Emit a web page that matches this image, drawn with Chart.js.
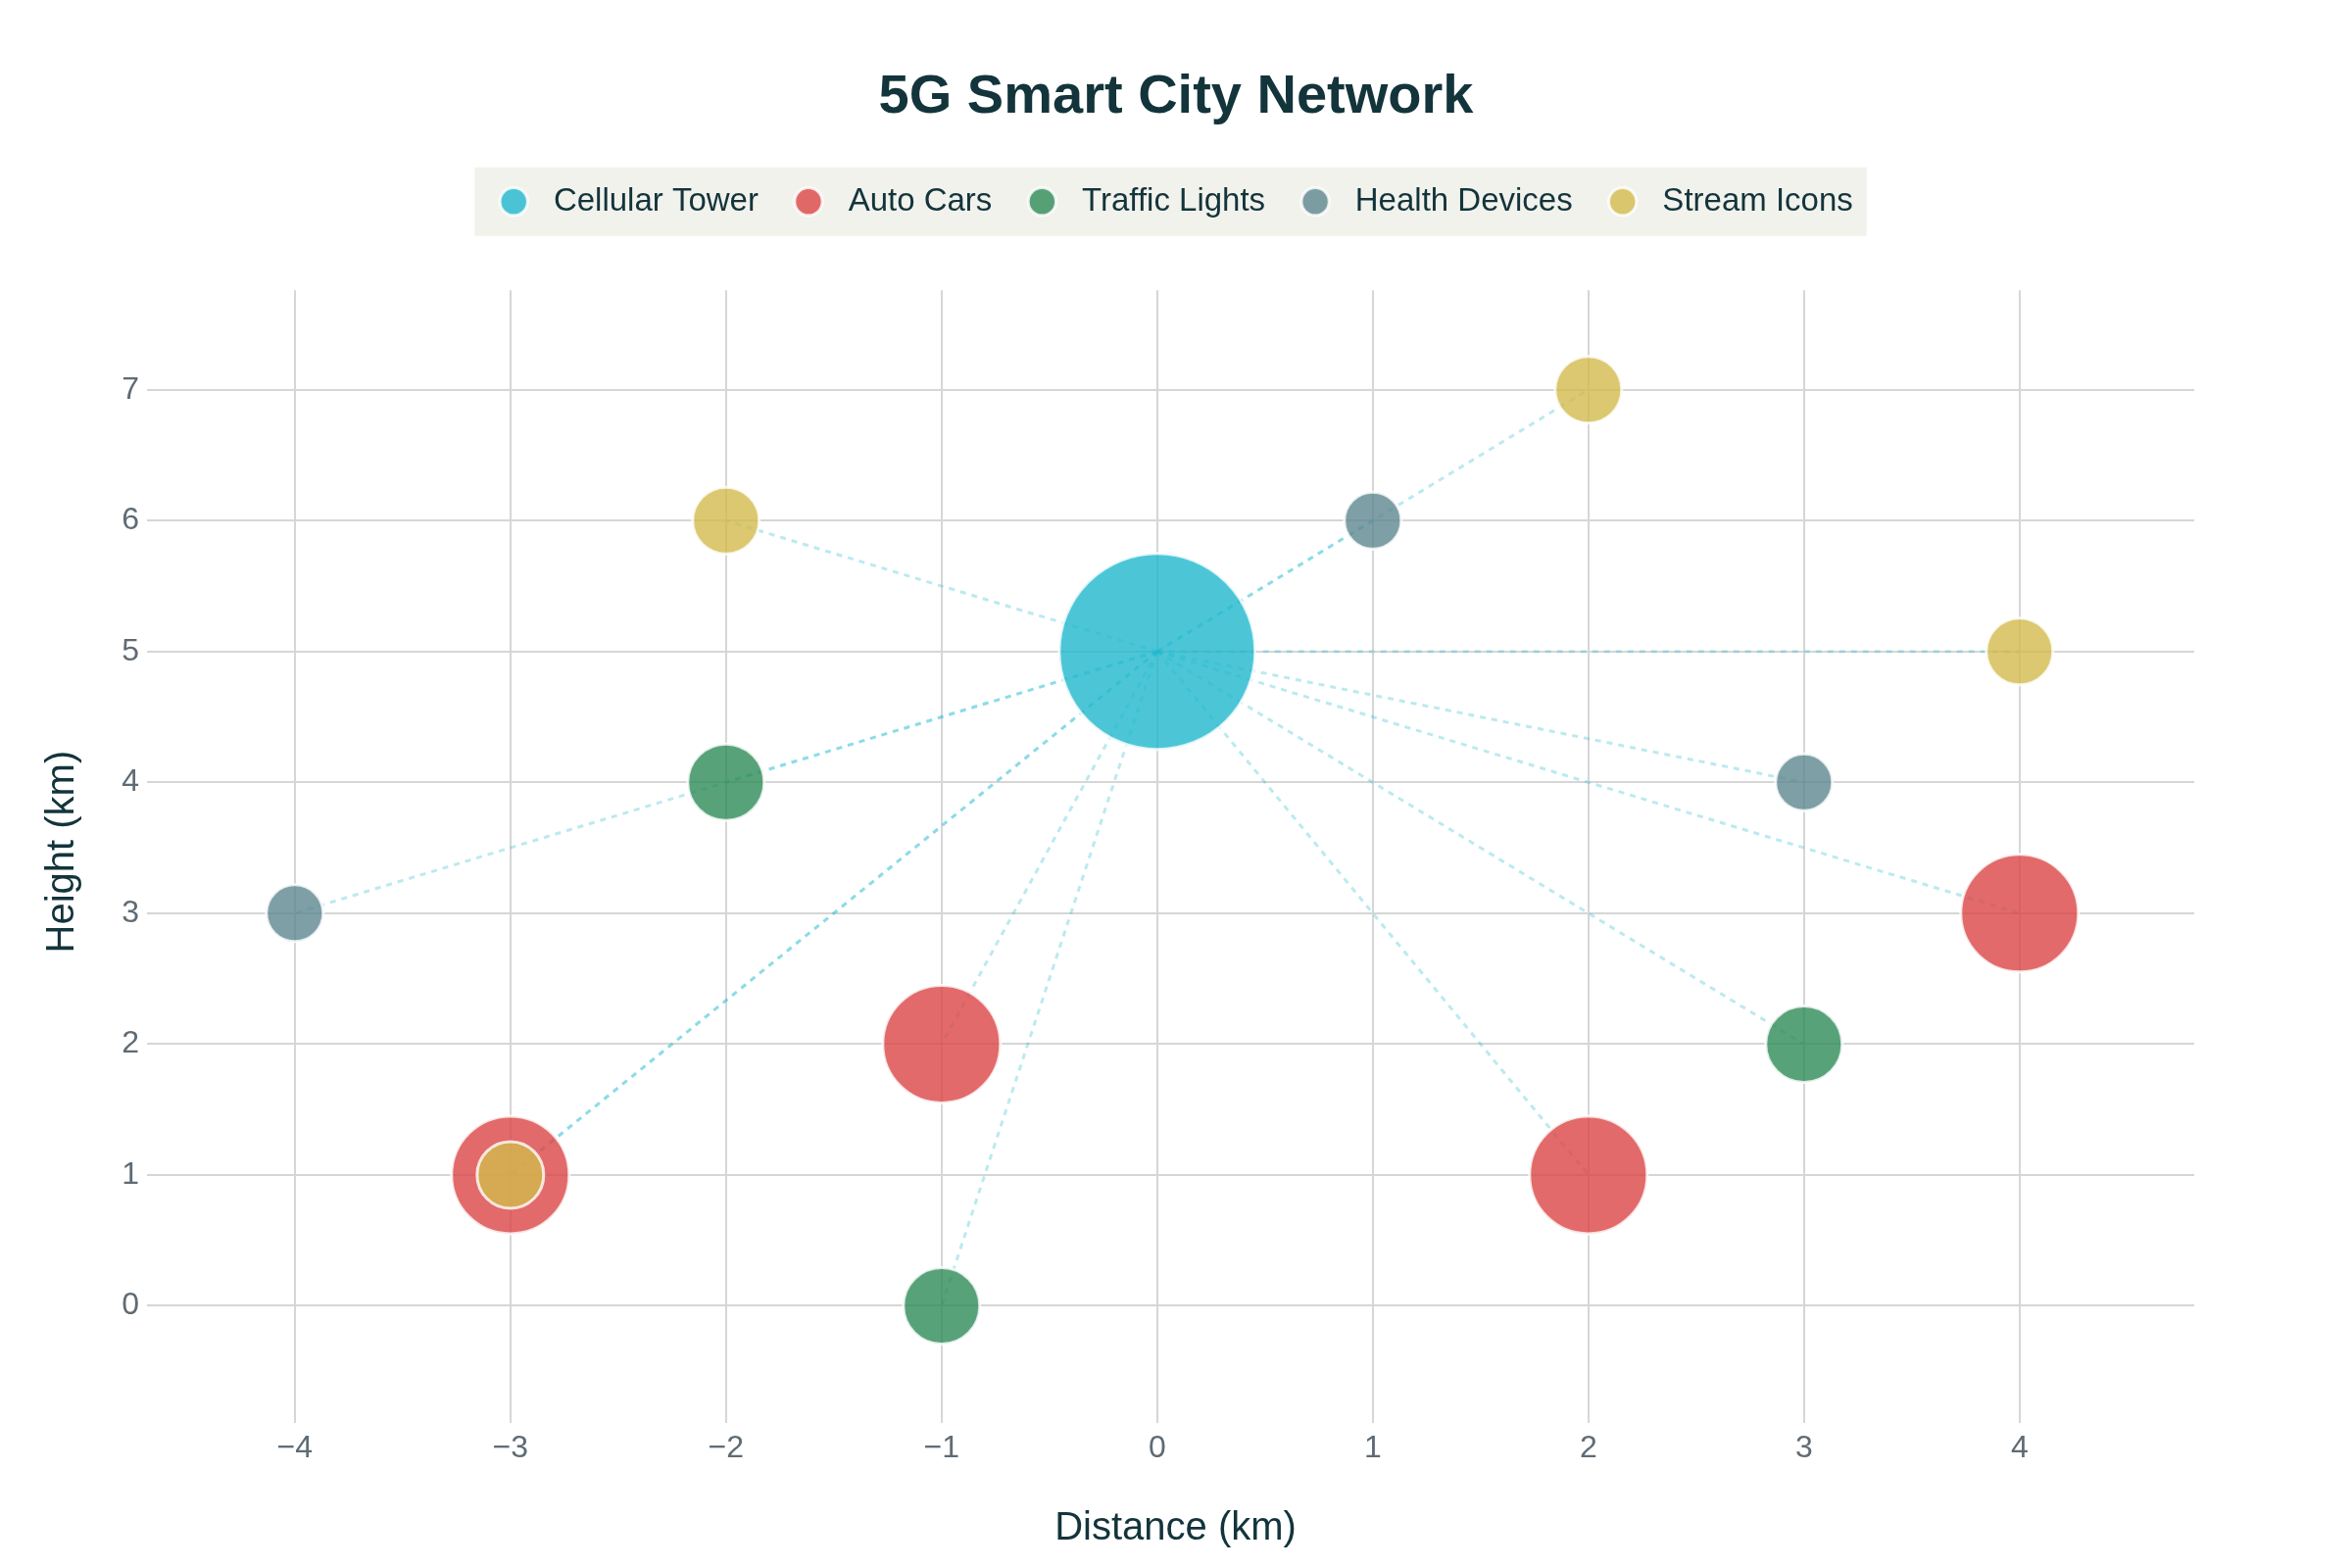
<!DOCTYPE html>
<html>
<head>
<meta charset="utf-8">
<title>5G Smart City Network</title>
<script src="https://cdn.jsdelivr.net/npm/chart.js@4.4.1/dist/chart.umd.min.js"></script>
<style>
  html, body { margin: 0; padding: 0; background: #ffffff; }
  canvas { display: block; }
</style>
</head>
<body>
<canvas id="networkChart" width="2400" height="1600"></canvas>
<script>
// data
const categories = ['Cellular Tower', 'Auto Cars', 'Traffic Lights', 'Health Devices', 'Stream Icons'];
const towerX = [0];
const towerY = [5];
const carX = [-3, -1, 2, 4];
const carY = [1, 2, 1, 3];
const lightX = [-2, -1, 3];
const lightY = [4, 0, 2];
const healthX = [-4, 1, 3];
const healthY = [3, 6, 4];
const streamX = [-2, 2, 4, -3];
const streamY = [6, 7, 5, 1];

// looks
const colors = ['rgba(31,184,205,0.8)', 'rgba(219,69,69,0.8)', 'rgba(46,139,87,0.8)', 'rgba(93,135,143,0.8)', 'rgba(210,186,76,0.8)'];
const radii = [100, 60, 39, 29, 34];
const drawOrder = [5, 4, 3, 2, 1];   // lower = on top
const linkColor = 'rgba(31,184,205,0.3)';
const darkText = '#13343b';
const tickText = '#5f6b74';
const gridColor = '#d6d6d6';
const fontFamily = "'Liberation Sans', Arial, Helvetica, sans-serif";

function toPoints(xs, ys) {
  return xs.map((x, i) => ({ x: x, y: ys[i] }));
}

const groups = [
  toPoints(towerX, towerY),
  toPoints(carX, carY),
  toPoints(lightX, lightY),
  toPoints(healthX, healthY),
  toPoints(streamX, streamY)
];

let datasets = groups.map((pts, i) => ({
  label: categories[i],
  data: pts.map(p => ({ x: p.x, y: p.y, r: radii[i] })),
  backgroundColor: colors[i],
  borderColor: 'rgba(255,255,255,0.8)',
  borderWidth: 3,
  pointStyle: 'circle',
  order: drawOrder[i]
}));

// dotted links from the tower to every device
const tower = groups[0][0];
groups.slice(1).forEach(pts => {
  pts.forEach(p => {
    datasets.push({
      type: 'line',
      label: 'link',
      data: [{ x: tower.x, y: tower.y }, { x: p.x, y: p.y }],
      borderColor: linkColor,
      borderWidth: 3,
      borderDash: [6, 6],
      pointRadius: 0,
      fill: false,
      order: 10
    });
  });
});

function minusTick(value) {
  return value < 0 ? '\u2212' + Math.abs(value) : String(value);
}

// legend: extra space under it and a light box behind it
const legendExtras = {
  id: 'legendExtras',
  beforeLayout(chart) {
    const lg = chart.legend;
    if (lg && !lg._gapPatched) {
      const fit = lg.fit;
      lg.fit = function () { fit.call(this); this.height += 64; };
      lg._gapPatched = true;
    }
  },
  beforeDraw(chart) {
    const boxes = chart.legend && chart.legend.legendHitBoxes;
    if (!boxes || !boxes.length) return;
    const first = boxes[0];
    const last = boxes[boxes.length - 1];
    const cy = first.top + first.height / 2;
    const left = first.left - 25;
    const right = last.left + last.width + 14;
    const ctx = chart.ctx;
    ctx.save();
    ctx.fillStyle = '#f2f2ed';
    ctx.fillRect(left, cy - 35, right - left, 70);
    ctx.restore();
  }
};

const ctx = document.getElementById('networkChart').getContext('2d');
const chart = new Chart(ctx, {
  type: 'bubble',
  data: { datasets: datasets },
  plugins: [legendExtras],
  options: {
    responsive: false,
    devicePixelRatio: 1,
    animation: false,
    layout: { padding: 0 },
    plugins: {
      title: {
        display: true,
        text: '5G Smart City Network',
        color: darkText,
        font: { family: fontFamily, size: 56, weight: 'bold' },
        padding: { top: 66, bottom: 20 }
      },
      legend: {
        display: true,
        position: 'top',
        labels: {
          generateLabels: chart => Chart.defaults.plugins.legend.labels.generateLabels(chart)
            .map(item => Object.assign(item, { text: ' ' + item.text })),
          filter: item => item.datasetIndex < 5,
          sort: (a, b) => a.datasetIndex - b.datasetIndex,
          usePointStyle: true,
          boxWidth: 30,
          boxHeight: 20,
          padding: 36,
          color: darkText,
          font: { family: fontFamily, size: 33 }
        }
      },
      tooltip: { enabled: false }
    },
    scales: {
      x: {
        type: 'linear',
        min: -4.64,
        max: 4.81,
        afterFit: scale => { scale.height = 158; },
        border: { display: false },
        grid: { color: gridColor, lineWidth: 2, tickLength: 10, tickColor: gridColor },
        ticks: {
          stepSize: 1,
          includeBounds: false,
          padding: 7,
          color: tickText,
          font: { family: fontFamily, size: 32 },
          callback: minusTick
        },
        title: {
          display: true,
          text: 'Distance (km)',
          color: darkText,
          font: { family: fontFamily, size: 40 },
          padding: { top: 0, bottom: 16 }
        }
      },
      y: {
        type: 'linear',
        min: -0.82,
        max: 7.76,
        afterFit: scale => { scale.width = 160; },
        border: { display: false },
        grid: { color: gridColor, lineWidth: 2, tickLength: 10, tickColor: gridColor },
        ticks: {
          stepSize: 1,
          includeBounds: false,
          padding: 8,
          color: tickText,
          font: { family: fontFamily, size: 32 },
          callback: minusTick
        },
        title: {
          display: true,
          text: 'Height (km)',
          color: darkText,
          font: { family: fontFamily, size: 40 },
          padding: { top: 40, bottom: 0 }
        }
      },
      // empty right margin so title and legend stay centred on the page
      yRight: {
        type: 'linear',
        position: 'right',
        afterFit: scale => { scale.width = 161; },
        border: { display: false },
        grid: { display: false },
        ticks: { display: false }
      }
    }
  }
});
</script>
</body>
</html>
